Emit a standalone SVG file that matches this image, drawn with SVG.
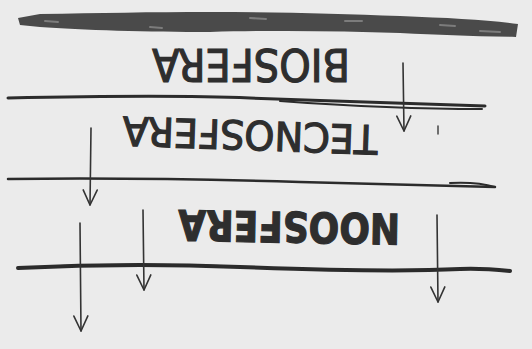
<svg xmlns="http://www.w3.org/2000/svg" width="532" height="349" viewBox="0 0 532 349">
<defs>
<style>
.bg{fill:#ebebeb}
.ln{fill:none;stroke:#2b2b2b;stroke-linecap:round;stroke-linejoin:round}
.lbl{font-family:"DejaVu Sans","Liberation Sans",sans-serif;fill:#2e2e2e;stroke:#2e2e2e;stroke-width:1.2;text-anchor:middle}
.arr{fill:none;stroke:#333;stroke-width:1.6;stroke-linecap:round;marker-end:url(#v)}
.hl{fill:none;stroke:#7c7c7c;stroke-linecap:round}
</style>
<marker id="v" markerUnits="userSpaceOnUse" markerWidth="20" markerHeight="20" viewBox="-16 -10 18 20" refX="0" refY="0" orient="auto">
<path d="M-15,-7 L0,0 L-15,7" fill="none" stroke="#333" stroke-width="1.6" stroke-linecap="round" stroke-linejoin="round"/>
</marker>
</defs>
<rect class="bg" x="0" y="0" width="532" height="349"/>
<g id="layer-lines">
<path d="M18,18 L40,14 C100,13 150,12 210,12 C280,12 340,14 400,16 C450,18 490,20 518,24 L516,37 C470,36 440,35 400,33 C340,31 280,30 210,32 C150,32 80,30 40,27 L20,25 Z" fill="#4a4a4a"/>
<path d="M45,21 L58,22 M150,27 L162,28 M250,18 L266,19 M345,21 L362,21 M440,25 L455,26 M480,31 L500,32" class="hl" stroke-width="2"/>
<path d="M8,98 C100,96 180,95 250,98 C330,101 420,104 485,106" class="ln" stroke-width="3"/>
<path d="M280,101 C350,106 420,109 482,109" class="ln" stroke-width="2"/>
<path d="M8,179 C100,178 200,179 300,182 C380,184 440,186 495,187" class="ln" stroke-width="2.5"/>
<path d="M450,183 C470,182 485,184 495,187" class="ln" stroke-width="2"/>
<path d="M18,268 C80,265 160,264 240,267 C320,270 400,272 460,269 C480,268 500,270 510,271" class="ln" stroke-width="4"/>
<path d="M60,266 C120,264 180,265 220,266" class="ln" stroke-width="2"/>
</g>
<g id="biosfera">
<text class="lbl" x="251" y="83" font-size="44" textLength="198" lengthAdjust="spacingAndGlyphs" transform="rotate(180 251 66)">BIOSFERA</text>
</g>
<g id="tecnosfera">
<text class="lbl" x="250" y="153" font-size="40" textLength="255" lengthAdjust="spacingAndGlyphs" transform="rotate(182 250 137)">TECNOSFERA</text>
</g>
<g id="noosfera">
<text class="lbl" x="289" y="246" font-size="42" font-weight="bold" stroke-width="0.5" textLength="222" lengthAdjust="spacingAndGlyphs" transform="rotate(181 289 229)" fill="#1e1e1e">NOOSFERA</text>
</g>
<g id="connectors">
<path class="arr" d="M403,63 L404,131"/>
<path class="arr" d="M91,128 L90,205"/>
<path class="arr" d="M80,223 L81,331"/>
<path class="arr" d="M143,210 L144,290"/>
<path class="arr" d="M437,215 L438,302"/>
<path d="M438,126 L438,134" class="ln" stroke-width="1.3"/>
</g>
</svg>
